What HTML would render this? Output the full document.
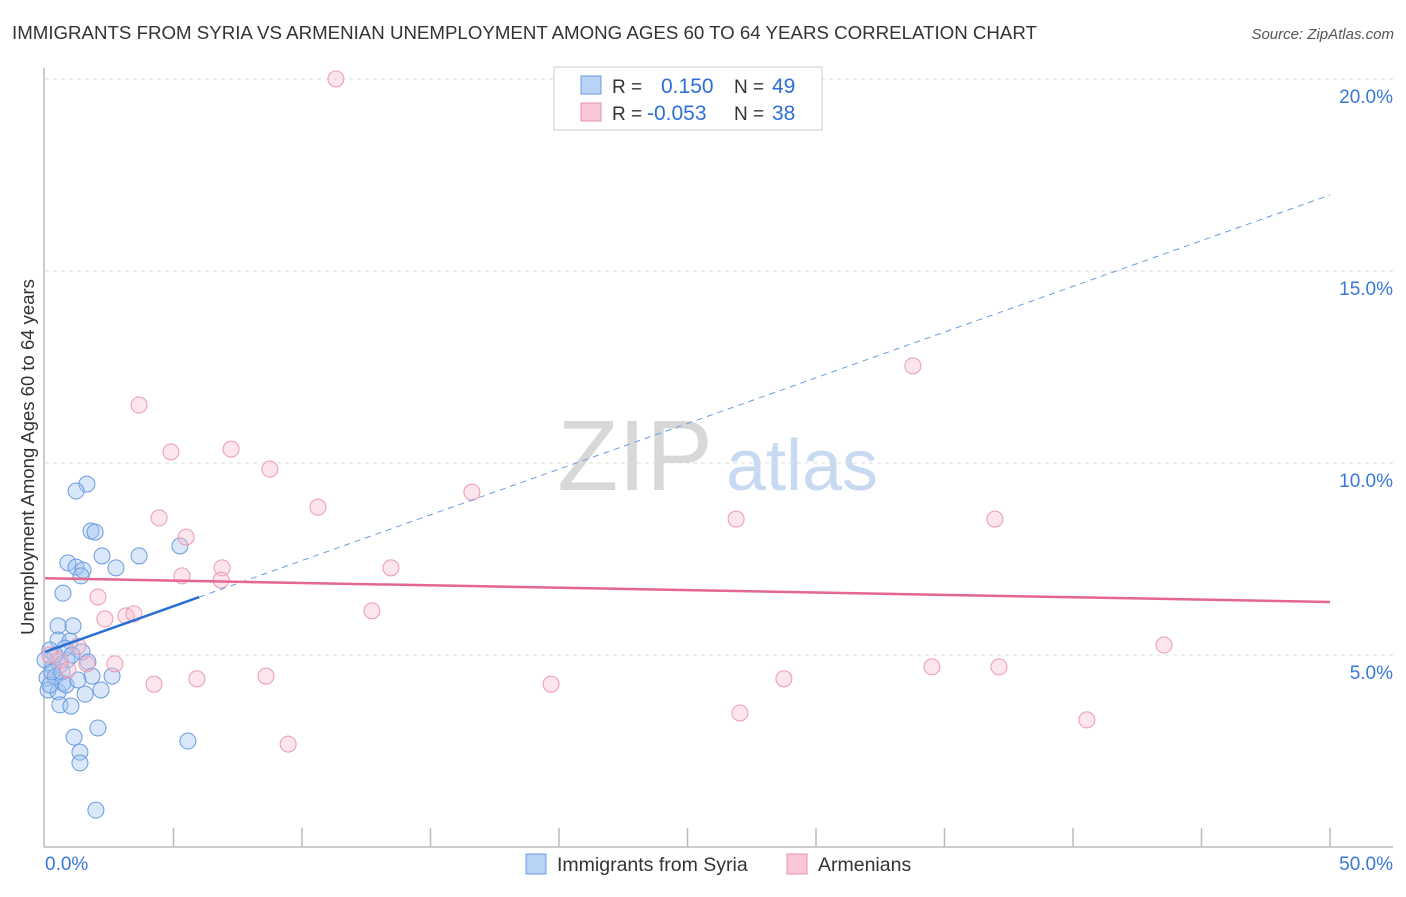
<!DOCTYPE html>
<html><head><meta charset="utf-8"><style>
body{margin:0;background:#fff;font-family:"Liberation Sans",sans-serif}
svg text{font-family:"Liberation Sans",sans-serif}
</style></head><body>
<svg id="c" width="1406" height="892">
<text x="12" y="39" font-size="18.7" fill="#333">IMMIGRANTS FROM SYRIA VS ARMENIAN UNEMPLOYMENT AMONG AGES 60 TO 64 YEARS CORRELATION CHART</text>
<text x="1394" y="39" font-size="15" fill="#555" text-anchor="end" font-style="italic">Source: ZipAtlas.com</text>
<text x="635" y="490" font-size="100" fill="#d8d8d8" font-family="Liberation Serif" text-anchor="middle">ZIP</text>
<text x="802" y="490" font-size="72" fill="#c8daf2" text-anchor="middle">atlas</text>
<text transform="translate(34,457) rotate(-90)" font-size="18.5" fill="#333" text-anchor="middle">Unemployment Among Ages 60 to 64 years</text>
<g id="grid"></g><g id="pts"></g><g id="lines"></g>
<g>
<rect x="554" y="67" width="268" height="63" fill="#fff" stroke="#ccc"/>
<rect x="581" y="76" width="20" height="18" fill="#b9d3f5" stroke="#6a9be0"/>
<rect x="581" y="103" width="20" height="18" fill="#f9c7d5" stroke="#e890aa"/>
<text x="612" y="93" font-size="19" fill="#333">R =</text><text x="661" y="93" font-size="21" fill="#2e6fd6">0.150</text>
<text x="734" y="93" font-size="19" fill="#333">N =</text><text x="772" y="93" font-size="21" fill="#2e6fd6">49</text>
<text x="612" y="120" font-size="19" fill="#333">R =</text><text x="647" y="120" font-size="21" fill="#2e6fd6">-0.053</text>
<text x="734" y="120" font-size="19" fill="#333">N =</text><text x="772" y="120" font-size="21" fill="#2e6fd6">38</text>
</g>
<g>
<rect x="526" y="854" width="20" height="20" fill="#b9d3f5" stroke="#6a9be0"/>
<text x="557" y="871" font-size="19.5" fill="#333">Immigrants from Syria</text>
<rect x="787" y="854" width="20" height="20" fill="#f9c7d5" stroke="#e890aa"/>
<text x="818" y="871" font-size="19.5" fill="#333">Armenians</text>
</g>
</svg>
<script>
const xTicks=[0,5,10,15,20,25,30,35,40,45,50];
const yTicks=[5,10,15,20];
const blueX=[1.63,1.21,1.79,1.95,2.22,3.66,5.25,0.89,1.21,1.48,1.40,2.76,0.70,1.09,0.51,0.51,0.97,1.44,0.19,0.86,1.67,0.31,0.58,0.08,0.39,0.12,0.51,0.70,1.56,2.18,2.61,0.19,0.58,1.01,2.06,1.13,1.36,1.36,5.56,1.98,0.78,1.05,0.39,0,0.27,0.66,1.83,0.82,1.28];
const blueY=[9.45,9.27,8.23,8.20,7.58,7.58,7.84,7.40,7.29,7.21,7.06,7.27,6.61,5.76,5.76,5.39,5.36,5.08,5.13,4.87,4.82,4.69,4.74,4.40,4.43,4.09,4.04,4.27,3.98,4.09,4.45,4.22,3.70,3.67,3.10,2.86,2.47,2.19,2.76,0.96,5.18,5.00,5.00,4.87,4.56,4.56,4.45,4.22,4.35];
const pinkX=[11.32,33.77,3.66,4.90,7.24,8.75,10.62,16.61,4.44,5.49,26.89,36.96,6.89,5.33,6.85,13.46,2.06,12.72,3.15,3.46,2.33,1.28,43.54,1.63,2.72,4.24,5.91,8.60,19.69,28.75,34.51,37.12,27.04,40.54,9.46,0.58,0.19,0.89];
const pinkY=[20.0,12.53,11.51,10.29,10.36,9.84,8.85,9.24,8.57,8.07,8.54,8.54,7.27,7.06,6.95,7.27,6.51,6.15,6.02,6.07,5.94,5.23,5.26,4.77,4.77,4.24,4.38,4.45,4.24,4.38,4.69,4.69,3.49,3.31,2.68,4.87,5.00,4.61];
const blueTrend=[0,5.08,50,16.98], blueSolidEnd=6;
const pinkTrend=[0,7.0,50,6.38];
const X=v=>45+v*25.7, Y=v=>847-v*38.4;
const NS='http://www.w3.org/2000/svg';
function mk(p,t,a){const e=document.createElementNS(NS,t);for(const k in a)e.setAttribute(k,a[k]);p.appendChild(e);return e;}
const g=document.getElementById('grid');
let ax=mk(g,'line',{x1:44,y1:68,x2:44,y2:847,stroke:'#bbb','stroke-width':1.5});


let bx=mk(g,'line',{x1:44,y1:847,x2:1393,y2:847,stroke:'#bbb','stroke-width':1.5});


yTicks.forEach(v=>{
 const l=mk(g,'line',{x1:45,x2:1393,y1:Y(v),y2:Y(v),stroke:'#ddd','stroke-dasharray':'4,4'});
 
 
 const t=mk(g,'text',{x:1393,y:Y(v)+24,'font-size':19,fill:'#3a78d8','text-anchor':'end'});
 t.textContent=v.toFixed(1)+'%';
 
 
});
xTicks.forEach(v=>{
 if(v===0)return;
 const l=mk(g,'line',{x1:X(v),x2:X(v),y1:828,y2:847,stroke:'#bbb','stroke-width':1.5});
 
 
});
[[0,'start',45],[50,'end',1393]].forEach(([v,a,px])=>{
 const t=mk(g,'text',{x:px,y:870,'font-size':19,fill:'#3a78d8','text-anchor':a});
 t.textContent=v.toFixed(1)+'%';
 
 
});
const P=document.getElementById('pts');
blueX.forEach((x,i)=>{const c=mk(P,'circle',{cx:X(x),cy:Y(blueY[i]),r:8,fill:'rgba(160,195,240,0.4)',stroke:'#6a9be0','stroke-width':1});
 
 });
pinkX.forEach((x,i)=>{const c=mk(P,'circle',{cx:X(x),cy:Y(pinkY[i]),r:8,fill:'rgba(248,190,206,0.4)',stroke:'#eb9ab2','stroke-width':1});
 
 });
const L=document.getElementById('lines');
const by=x=>blueTrend[1]+(blueTrend[3]-blueTrend[1])*(x-blueTrend[0])/(blueTrend[2]-blueTrend[0]);
let l1=mk(L,'line',{x1:X(0),y1:Y(by(0)),x2:X(blueSolidEnd),y2:Y(by(blueSolidEnd)),stroke:'#2a6fd6','stroke-width':2.5});


let l2=mk(L,'line',{x1:X(blueSolidEnd),y1:Y(by(blueSolidEnd)),x2:X(50),y2:Y(by(50)),stroke:'#6a9be0','stroke-width':1,'stroke-dasharray':'6,5'});


let l3=mk(L,'line',{x1:X(pinkTrend[0]),y1:Y(pinkTrend[1]),x2:X(pinkTrend[2]),y2:Y(pinkTrend[3]),stroke:'#e5668f','stroke-width':2.5});


</script>
</body></html>
